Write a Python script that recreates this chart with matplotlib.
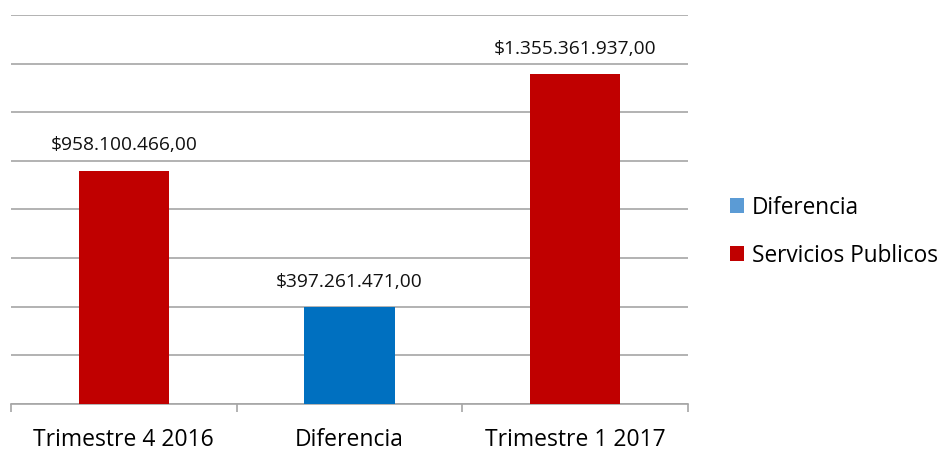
import matplotlib.pyplot as plt
from matplotlib.patches import Patch

categories = ['Trimestre 4 2016', 'Diferencia', 'Trimestre 1 2017']
values = [958100466.00, 397261471.00, 1355361937.00]
series = ['Servicios Publicos', 'Diferencia', 'Servicios Publicos']
legend_labels = ['Diferencia', 'Servicios Publicos']

colors = {'Servicios Publicos': '#C00000', 'Diferencia': '#0070C0'}
legend_colors = {'Servicios Publicos': '#C00000', 'Diferencia': '#5B9BD5'}


def fmt(v):
    s = f"{v:,.2f}"
    s = s.replace(',', 'X').replace('.', ',').replace('X', '.')
    return '$' + s


def main():
    plt.rcParams['font.family'] = ['Open Sans', 'DejaVu Sans']
    fig = plt.figure(figsize=(9.45, 4.5), dpi=100)
    ax = fig.add_axes([0.0116, 0.102, 0.7164, 0.865])

    x = list(range(len(categories)))
    ax.bar(x, values, width=0.4, color=[colors[s] for s in series], zorder=3)
    for xi, v in zip(x, values):
        ax.annotate(fmt(v), (xi, v), xytext=(0, 12), textcoords='offset points',
                    ha='center', va='bottom', fontsize=13.8, color='#111111')

    ax.set_xlim(-0.5, 2.5)
    ax.set_ylim(0, 1.6e9)
    ax.set_yticks([i * 0.2e9 for i in range(9)])
    ax.yaxis.grid(True, color='#A6A6A6', linewidth=1.2, zorder=0)
    ax.tick_params(axis='y', left=False, labelleft=False)
    ax.set_xticks(x)
    ax.set_xticklabels(categories, fontsize=16.5)
    ax.tick_params(axis='x', which='major', length=0, pad=17)
    ax.set_xticks([-0.5, 0.5, 1.5, 2.5], minor=True)
    ax.tick_params(axis='x', which='minor', length=6, color='#A6A6A6', width=1.2)
    for sp in ['top', 'right', 'left']:
        ax.spines[sp].set_visible(False)
    ax.spines['bottom'].set_color('#A6A6A6')
    ax.spines['bottom'].set_linewidth(1.2)

    handles = [Patch(facecolor=legend_colors[l], label=l) for l in legend_labels]
    fig.legend(handles=handles, loc='center left', bbox_to_anchor=(0.7505, 0.485),
               frameon=False, fontsize=16.3, handlelength=0.65, handleheight=0.65,
               handletextpad=0.35, labelspacing=1.05)

    fig.savefig('out.png', dpi=100)


if __name__ == "__main__":
    main()
